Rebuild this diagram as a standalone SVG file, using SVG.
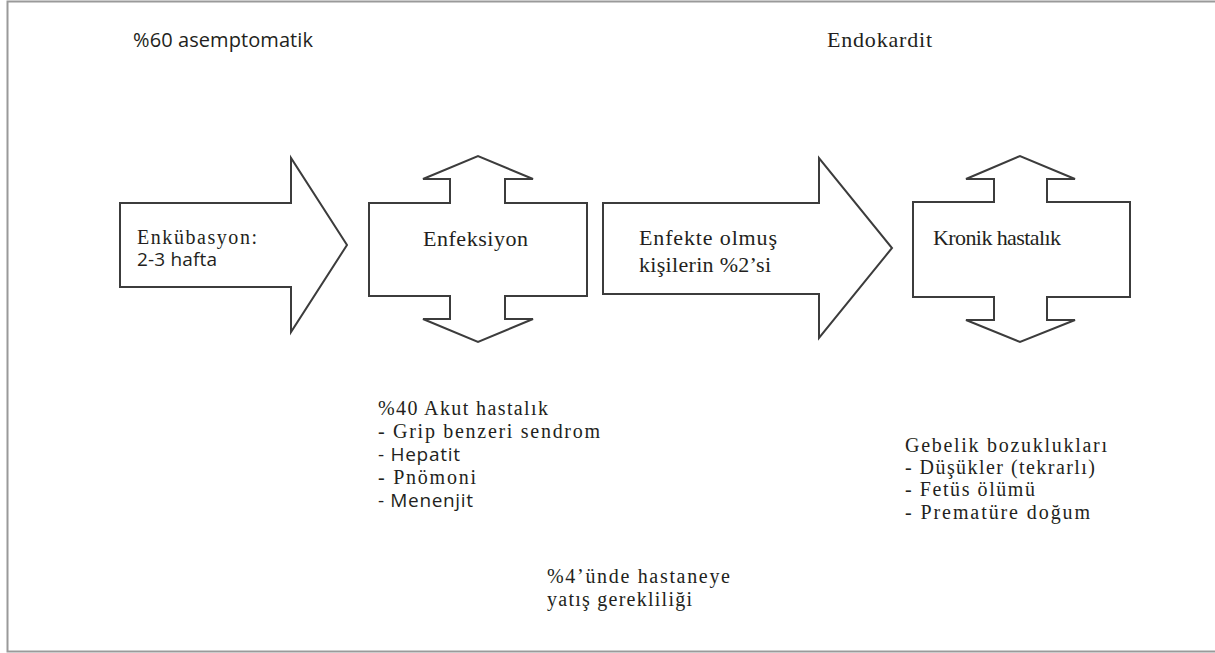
<svg xmlns="http://www.w3.org/2000/svg" width="1215" height="653" viewBox="0 0 1215 653">
<style>
.shape{fill:#fff;stroke:#3c3c3c;stroke-width:2;stroke-linejoin:miter}
.serif{font-family:"Liberation Serif","DejaVu Serif",serif;font-size:22px;fill:#231f20}
.list{font-size:20px}
.sans{font-family:"Open Sans","Liberation Sans",sans-serif;font-size:19px;fill:#231f20}
</style>
<rect x="7.5" y="1.5" width="1220" height="650" fill="#fff" stroke="#9a9a9a" stroke-width="2"/>
<g id="connectors">
<g id="arrow-incubation">
<polygon class="shape" points="120,203 291,203 291,158 347,245 291,332 291,287 120,287"/>
<text class="serif list" x="137" y="244" textLength="120">Enkübasyon:</text>
<text class="sans" x="137" y="266" textLength="80">2-3 hafta</text>
</g>
<g id="arrow-infected">
<polygon class="shape" points="603,203 819,203 819,158 892,248 819,338 819,294 603,294"/>
<text class="serif" x="639" y="245" textLength="138">Enfekte olmuş</text>
<text class="serif" x="639" y="272" textLength="132">kişilerin %2’si</text>
</g>
</g>
<g id="node-infection">
<polygon class="shape" points="369,203 450,203 450,179 423,179 478,156 533,179 505,179 505,203 587,203 587,296 505,296 505,319 533,319 478,342 423,319 450,319 450,296 369,296"/>
<text class="serif" x="423" y="246" textLength="105">Enfeksiyon</text>
</g>
<g id="node-chronic">
<polygon class="shape" points="913,202 994,202 994,179 966,179 1020,156 1075,179 1047,179 1047,202 1130,202 1130,297 1047,297 1047,320 1075,320 1020,342 966,320 994,320 994,297 913,297"/>
<text class="serif" x="933" y="245" textLength="128">Kronik hastalık</text>
</g>
<g id="label-asymptomatic">
<text class="sans" x="133" y="47" style="font-size:20px" textLength="180">%60 asemptomatik</text>
</g>
<g id="label-endocarditis">
<text class="serif" x="827" y="47" textLength="105">Endokardit</text>
</g>
<g id="label-acute">
<text class="serif list" x="378" y="415" textLength="170">%40 Akut hastalık</text>
<text class="serif list" x="378" y="438" textLength="222">- Grip benzeri sendrom</text>
<text class="sans" x="378" y="461" textLength="82">- Hepatit</text>
<text class="serif list" x="378" y="484" textLength="98">- Pnömoni</text>
<text class="sans" x="378" y="507" textLength="95">- Menenjit</text>
</g>
<g id="label-hospital">
<text class="serif list" x="547" y="583" textLength="183">%4’ünde hastaneye</text>
<text class="serif list" x="547" y="606" textLength="145">yatış gerekliliği</text>
</g>
<g id="label-pregnancy">
<text class="serif list" x="905" y="452" textLength="202">Gebelik bozuklukları</text>
<text class="serif list" x="905" y="474" textLength="190">- Düşükler (tekrarlı)</text>
<text class="serif list" x="905" y="496" textLength="130">- Fetüs ölümü</text>
<text class="serif list" x="905" y="519" textLength="185">- Prematüre doğum</text>
</g>
</svg>
